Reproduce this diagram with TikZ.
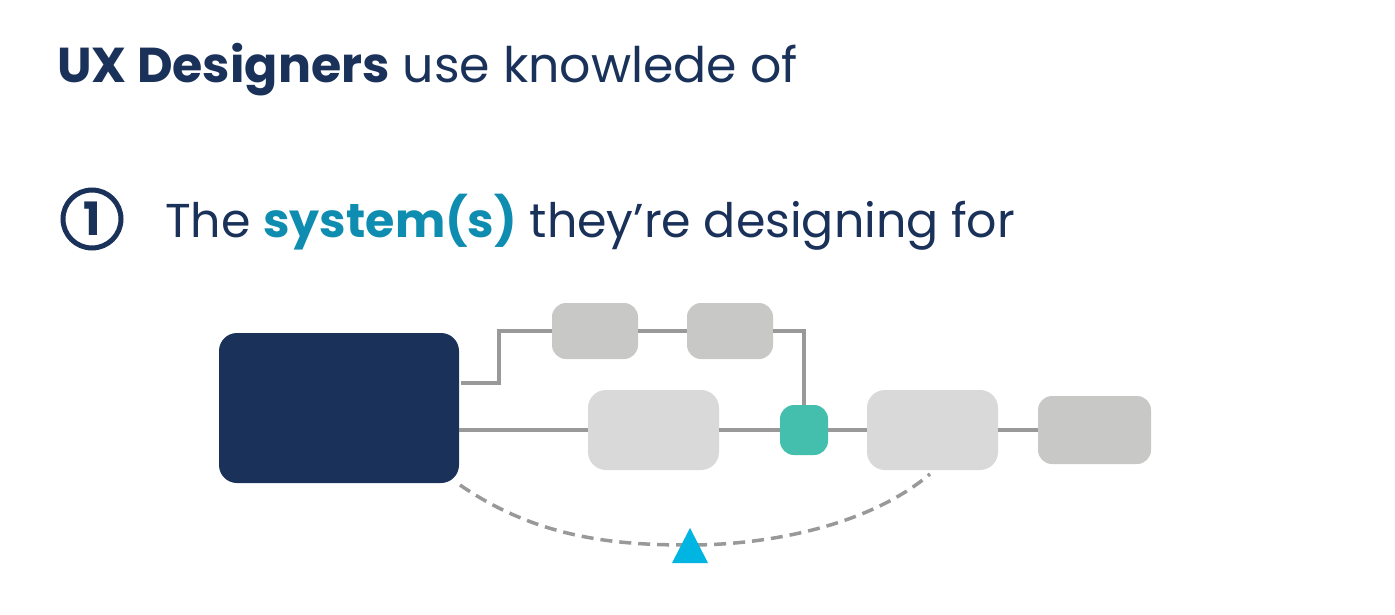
\documentclass[tikz,border=0pt]{standalone}
\usepackage{fontspec}
\setmainfont{Poppins}
\definecolor{navy}{HTML}{1A3159}
\definecolor{tealtext}{HTML}{0E8DB0}
\definecolor{boxgray}{HTML}{C8C8C6}
\definecolor{boxlight}{HTML}{D9D9D9}
\definecolor{tealbox}{HTML}{44BFAD}
\definecolor{linegray}{HTML}{999999}
\definecolor{cyantri}{HTML}{00B5E2}
\begin{document}
\begin{tikzpicture}[x=1pt,y=-1pt,
  conn/.style={draw=linegray,line width=3.2pt},
  txt/.style={anchor=base west,inner sep=0pt,text=navy}]
\useasboundingbox[fill=white] (0,0) rectangle (1395,615);
% title
\node[txt,font=\fontsize{49}{56}\selectfont] (title) at (57,83) {\textbf{UX Designers} use knowlede of};
\node[circle,draw=navy,line width=5pt,minimum size=58pt,inner sep=0pt,text=navy,font=\bfseries\fontsize{46}{50}\selectfont] (one) at (92,219) {1};
\node[txt,font=\fontsize{47.5}{56}\selectfont] (sub) at (165,237) {The \textcolor{tealtext}{\textbf{system(s)}} they’re designing for};
% boxes
\path[fill=navy,rounded corners=18pt] (219,333) rectangle (459,483);
\node[minimum width=240pt,minimum height=150pt,inner sep=0pt] (main) at (339,408) {};
\path[fill=boxgray,rounded corners=14pt] (552,303) rectangle (638,359);
\node[minimum width=86pt,minimum height=56pt,inner sep=0pt] (t1) at (595,331) {};
\path[fill=boxgray,rounded corners=14pt] (687,303) rectangle (773,359);
\node[minimum width=86pt,minimum height=56pt,inner sep=0pt] (t2) at (730,331) {};
\path[fill=boxlight,rounded corners=18pt] (588,390) rectangle (719,470);
\node[minimum width=131pt,minimum height=80pt,inner sep=0pt] (m1) at (653.5,430) {};
\path[fill=tealbox,rounded corners=14pt] (780,405) rectangle (828,455);
\node[minimum width=48pt,minimum height=50pt,inner sep=0pt] (tl) at (804,430) {};
\path[fill=boxlight,rounded corners=18pt] (867,390) rectangle (998,470);
\node[minimum width=131pt,minimum height=80pt,inner sep=0pt] (m2) at (932.5,430) {};
\path[fill=boxgray,rounded corners=14pt] (1038,396) rectangle (1151,464);
\node[minimum width=113pt,minimum height=68pt,inner sep=0pt] (r) at (1094.5,430) {};
% connectors
\coordinate (p1) at (461,383);
\coordinate (p2) at (459,430);
\draw[conn] (p1) -- (499,383) |- (t1.west);
\draw[conn] (t1.east) -- (t2.west);
\draw[conn] (t2.east) -| (tl.north);
\draw[conn] (p2) -- (m1.west);
\draw[conn] (m1.east) -- (tl.west);
\draw[conn] (tl.east) -- (m2.west);
\draw[conn] (m2.east) -- (r.west);
% dashed curve and triangle
\coordinate (c1) at (460,485);
\coordinate (c2) at (930,474);
\coordinate (mid) at (690,545);
\draw[draw=linegray,line width=3.5pt,dash pattern=on 12pt off 7pt] (c1) .. controls (540,540) and (620,545) .. (mid) .. controls (770,545) and (870,525) .. (c2);
\fill[cyantri] (690,528) -- (708,563) -- (672,563) -- cycle;
\end{tikzpicture}
\end{document}
